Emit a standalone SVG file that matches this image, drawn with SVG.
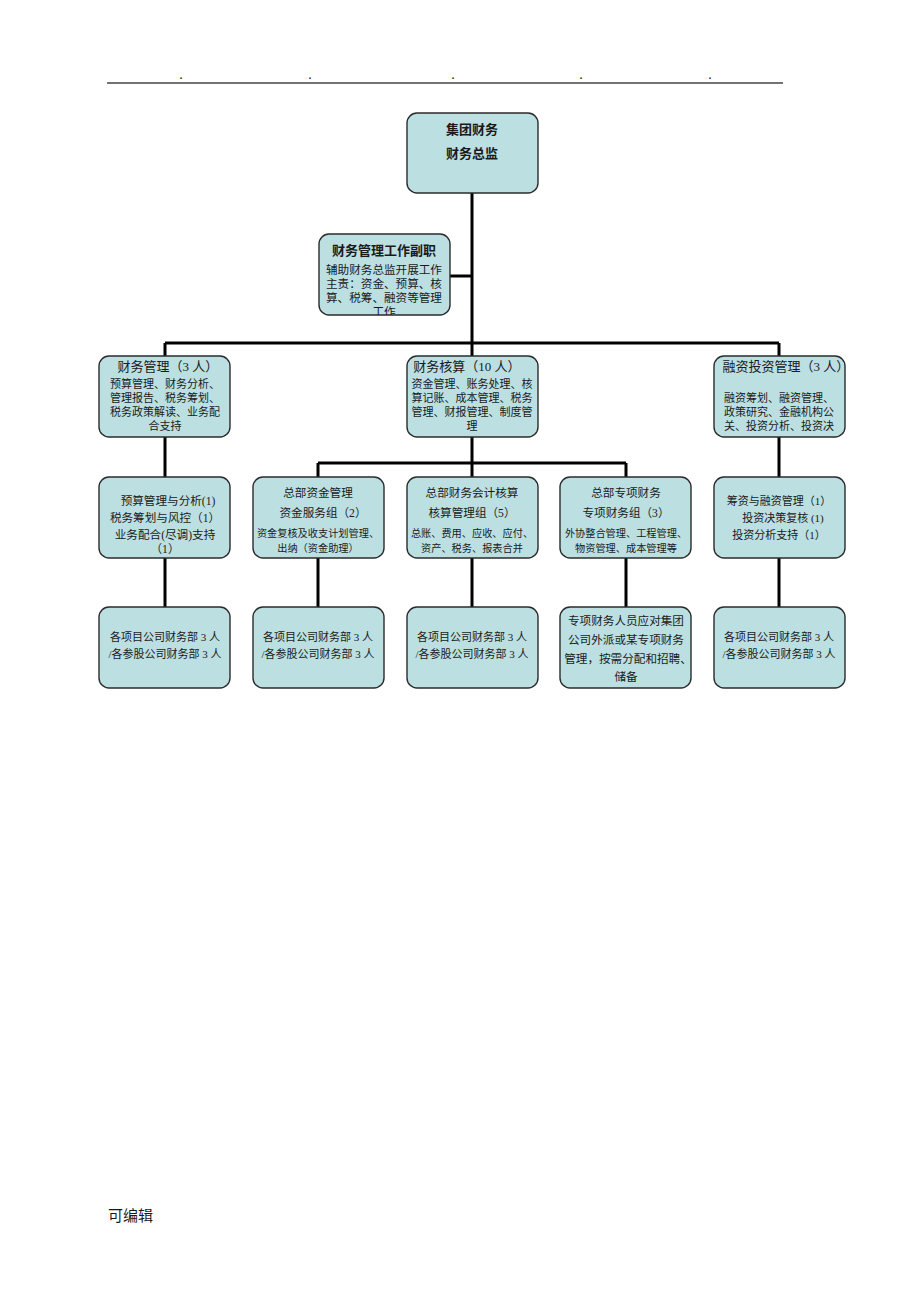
<svg xmlns="http://www.w3.org/2000/svg" width="920" height="1302" viewBox="0 0 920 1302">
<style>
.box{fill:#bcdfe2;stroke:#2b2b2b;stroke-width:1.4}
.ln{stroke:#000;stroke-width:3;fill:none}
text{font-family:"Liberation Serif","Noto Sans CJK SC",serif;fill:#1a1a1a;text-anchor:middle}
.b{font-weight:bold;font-size:13px}
.t{font-size:13px}
.s{font-size:11px}
.x{font-size:10.2px}
.m{font-size:11.6px}
</style>
<defs>
<clipPath id="cd"><rect x="319" y="234" width="131" height="81" rx="10"/></clipPath>
<clipPath id="cc"><rect x="714" y="356" width="135" height="81" rx="10"/></clipPath>
</defs>
<g id="header">
<line x1="107" y1="83" x2="783" y2="83" stroke="#444" stroke-width="1.5"/>
<g font-size="10" font-weight="bold"><text x="181" y="79">.</text><text x="310" y="79">.</text><text x="453" y="79">.</text><text x="581" y="79">.</text><text x="710" y="79">.</text></g>
</g>
<g id="connectors">
<path class="ln" d="M472 193V343M450 276H472M165 343H779M165 343V356M472 343V356M779 343V356"/>
<path class="ln" d="M165 437V477M472 437V463M318 463H626M318 463V477M472 463V477M626 463V477M779 437V477"/>
<path class="ln" d="M165 558V607M318 558V607M472 558V607M626 558V607M779 558V607"/>
</g>
<g id="n_top"><rect class="box" x="407" y="113" width="131" height="80" rx="10"/>
<text class="b" x="472" y="134">集团财务</text><text class="b" x="472" y="158">财务总监</text></g>
<g id="n_deputy"><rect class="box" x="319" y="234" width="131" height="81" rx="10"/>
<g clip-path="url(#cd)"><text class="b" x="384" y="255">财务管理工作副职</text>
<text class="m" x="384" y="274">辅助财务总监开展工作</text><text class="m" x="384" y="288">主责：资金、预算、核</text><text class="m" x="384" y="302">算、税筹、融资等管理</text><text class="m" x="384" y="316">工作</text></g></g>
<g id="n_a"><rect class="box" x="99" y="356" width="131" height="81" rx="10"/>
<text class="t" x="168" y="371">财务管理（3 人）</text>
<text class="s" x="165" y="388">预算管理、财务分析、</text><text class="s" x="165" y="402">管理报告、税务筹划、</text><text class="s" x="165" y="416">税务政策解读、业务配</text><text class="s" x="165" y="430">合支持</text></g>
<g id="n_b"><rect class="box" x="407" y="356" width="131" height="81" rx="10"/>
<text class="t" x="467" y="371">财务核算（10 人）</text>
<text class="s" x="472" y="388">资金管理、账务处理、核</text><text class="s" x="472" y="402">算记账、成本管理、税务</text><text class="s" x="472" y="416">管理、财报管理、制度管</text><text class="s" x="472" y="430">理</text></g>
<g id="n_c"><rect class="box" x="714" y="356" width="131" height="81" rx="10"/>
<g clip-path="url(#cc)"><text class="t" x="786" y="371">融资投资管理（3 人）</text></g>
<text class="s" x="779" y="402">融资筹划、融资管理、</text><text class="s" x="779" y="416">政策研究、金融机构公</text><text class="s" x="779" y="430">关、投资分析、投资决</text></g>
<g id="n_d"><rect class="box" x="99" y="477" width="131" height="81" rx="10"/>
<text class="m" x="168" y="505">预算管理与分析(1)</text><text class="m" x="165" y="522">税务筹划与风控（1）</text><text class="m" x="165" y="539">业务配合(尽调)支持</text><text class="m" x="165" y="553">（1）</text></g>
<g id="n_e"><rect class="box" x="253" y="477" width="131" height="81" rx="10"/>
<text class="m" x="318" y="497">总部资金管理</text><text class="m" x="323" y="517">资金服务组（2）</text><text class="x" x="318" y="537">资金复核及收支计划管理、</text><text class="x" x="318" y="552">出纳（资金助理）</text></g>
<g id="n_f"><rect class="box" x="407" y="477" width="131" height="81" rx="10"/>
<text class="m" x="472" y="497">总部财务会计核算</text><text class="m" x="472" y="517">核算管理组（5）</text><text class="x" x="472" y="537">总账、费用、应收、应付、</text><text class="x" x="472" y="552">资产、税务、报表合并</text></g>
<g id="n_g"><rect class="box" x="560" y="477" width="131" height="81" rx="10"/>
<text class="m" x="626" y="497">总部专项财务</text><text class="m" x="626" y="517">专项财务组（3）</text><text class="x" x="626" y="537">外协整合管理、工程管理、</text><text class="x" x="626" y="552">物资管理、成本管理等</text></g>
<g id="n_h"><rect class="box" x="714" y="477" width="131" height="81" rx="10"/>
<text class="s" x="779" y="505">筹资与融资管理（1）</text><text class="s" x="783" y="522">投资决策复核 (1)</text><text class="s" x="779" y="539">投资分析支持（1）</text></g>
<g id="n_i"><rect class="box" x="99" y="607" width="131" height="81" rx="10"/>
<text class="s" x="165" y="641">各项目公司财务部 3 人</text><text class="s" x="165" y="658">/各参股公司财务部 3 人</text></g>
<g id="n_j"><rect class="box" x="253" y="607" width="131" height="81" rx="10"/>
<text class="s" x="318" y="641">各项目公司财务部 3 人</text><text class="s" x="318" y="658">/各参股公司财务部 3 人</text></g>
<g id="n_k"><rect class="box" x="407" y="607" width="131" height="81" rx="10"/>
<text class="s" x="472" y="641">各项目公司财务部 3 人</text><text class="s" x="472" y="658">/各参股公司财务部 3 人</text></g>
<g id="n_l"><rect class="box" x="560" y="607" width="131" height="81" rx="10"/>
<text class="m" x="626" y="625">专项财务人员应对集团</text><text class="m" x="626" y="644">公司外派或某专项财务</text><text class="m" x="628" y="663">管理，按需分配和招聘、</text><text class="m" x="626" y="681">储备</text></g>
<g id="n_m"><rect class="box" x="714" y="607" width="131" height="81" rx="10"/>
<text class="s" x="779" y="641">各项目公司财务部 3 人</text><text class="s" x="779" y="658">/各参股公司财务部 3 人</text></g>
<g id="footer"><text x="108" y="1221" font-size="15" style="text-anchor:start">可编辑</text></g>
</svg>
